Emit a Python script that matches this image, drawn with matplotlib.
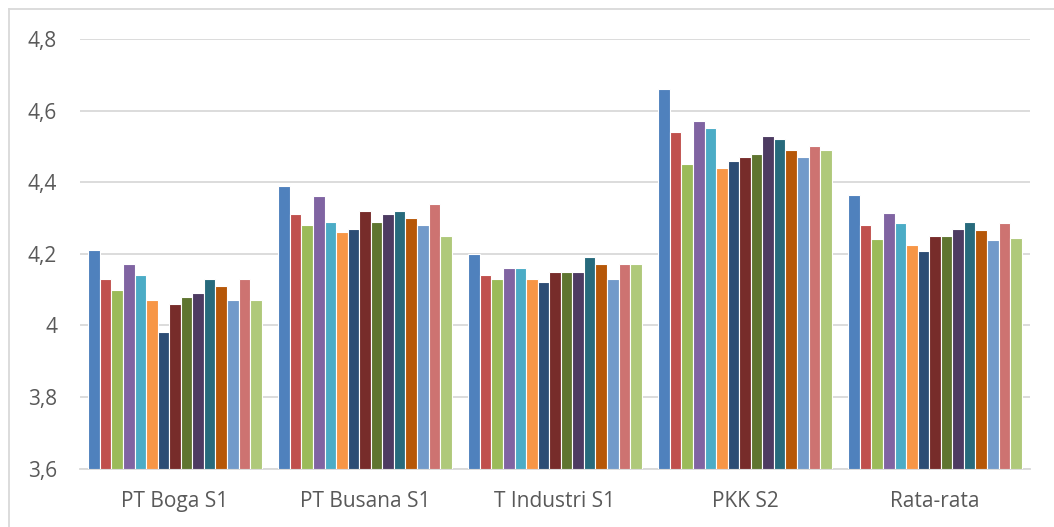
import numpy as np
import matplotlib.pyplot as plt
from matplotlib.lines import Line2D

categories = ['PT Boga S1', 'PT Busana S1', 'T Industri S1', 'PKK S2', 'Rata-rata']

# one list per series (15 series, Excel default palette order)
s1 = [4.21, 4.39, 4.20, 4.66, 4.365]
s2 = [4.13, 4.31, 4.14, 4.54, 4.28]
s3 = [4.10, 4.28, 4.13, 4.45, 4.24]
s4 = [4.17, 4.36, 4.16, 4.57, 4.315]
s5 = [4.14, 4.29, 4.16, 4.55, 4.285]
s6 = [4.07, 4.26, 4.13, 4.44, 4.225]
s7 = [3.98, 4.27, 4.12, 4.46, 4.207]
s8 = [4.06, 4.32, 4.15, 4.47, 4.25]
s9 = [4.08, 4.29, 4.15, 4.48, 4.25]
s10 = [4.09, 4.31, 4.15, 4.53, 4.27]
s11 = [4.13, 4.32, 4.19, 4.52, 4.29]
s12 = [4.11, 4.30, 4.17, 4.49, 4.267]
s13 = [4.07, 4.28, 4.13, 4.47, 4.238]
s14 = [4.13, 4.34, 4.17, 4.50, 4.285]
s15 = [4.07, 4.25, 4.17, 4.49, 4.245]
series = [s1, s2, s3, s4, s5, s6, s7, s8, s9, s10, s11, s12, s13, s14, s15]

colors = ['#4F81BD', '#C0504D', '#9BBB59', '#8064A2', '#4BACC6', '#F79646',
          '#2C4D75', '#772C2A', '#5F7530', '#4D3B62', '#276A7C', '#B65708',
          '#729ACA', '#CD7371', '#AFC97A']

plt.rcParams['font.family'] = ['Open Sans', 'DejaVu Sans']

fig = plt.figure(figsize=(10.54, 5.27), dpi=100)
W, H = 1054, 527
ax = fig.add_axes([80 / W, 1 - 468.5 / H, 950 / W, (468.5 - 39) / H])

x = np.arange(len(categories))
bw = 0.0608
n = len(series)
for i, vals in enumerate(series):
    off = (i - (n - 1) / 2) * bw
    ax.bar(x + off, np.array(vals) - 3.6, bottom=3.6, width=bw, color=colors[i],
           edgecolor='white', linewidth=0.8, zorder=3)

ax.set_xlim(-0.5, len(categories) - 0.5)
ax.set_ylim(3.6, 4.8)
yt = [3.6, 3.8, 4.0, 4.2, 4.4, 4.6, 4.8]
ax.set_yticks(yt)
ax.set_yticklabels(['3,6', '3,8', '4', '4,2', '4,4', '4,6', '4,8'])
ax.set_xticks(x)
ax.set_xticklabels(categories)
ax.tick_params(axis='both', length=0, colors='#595959', labelsize=15)
ax.tick_params(axis='y', pad=16.5)
ax.tick_params(axis='x', pad=16)
ax.yaxis.grid(True, color='#d9d9d9', linewidth=1.3, zorder=0)
ax.set_axisbelow(True)
for s in ['top', 'right', 'left']:
    ax.spines[s].set_visible(False)
ax.spines['bottom'].set_color('#d9d9d9')
ax.spines['bottom'].set_linewidth(1.3)

# chart area border
fig.add_artist(Line2D([9 / W, 1], [1 - 9 / H, 1 - 9 / H], color='#d9d9d9', lw=1.3))
fig.add_artist(Line2D([9 / W, 9 / W], [0, 1 - 9 / H], color='#d9d9d9', lw=1.3))

fig.savefig('out.png', dpi=100)
